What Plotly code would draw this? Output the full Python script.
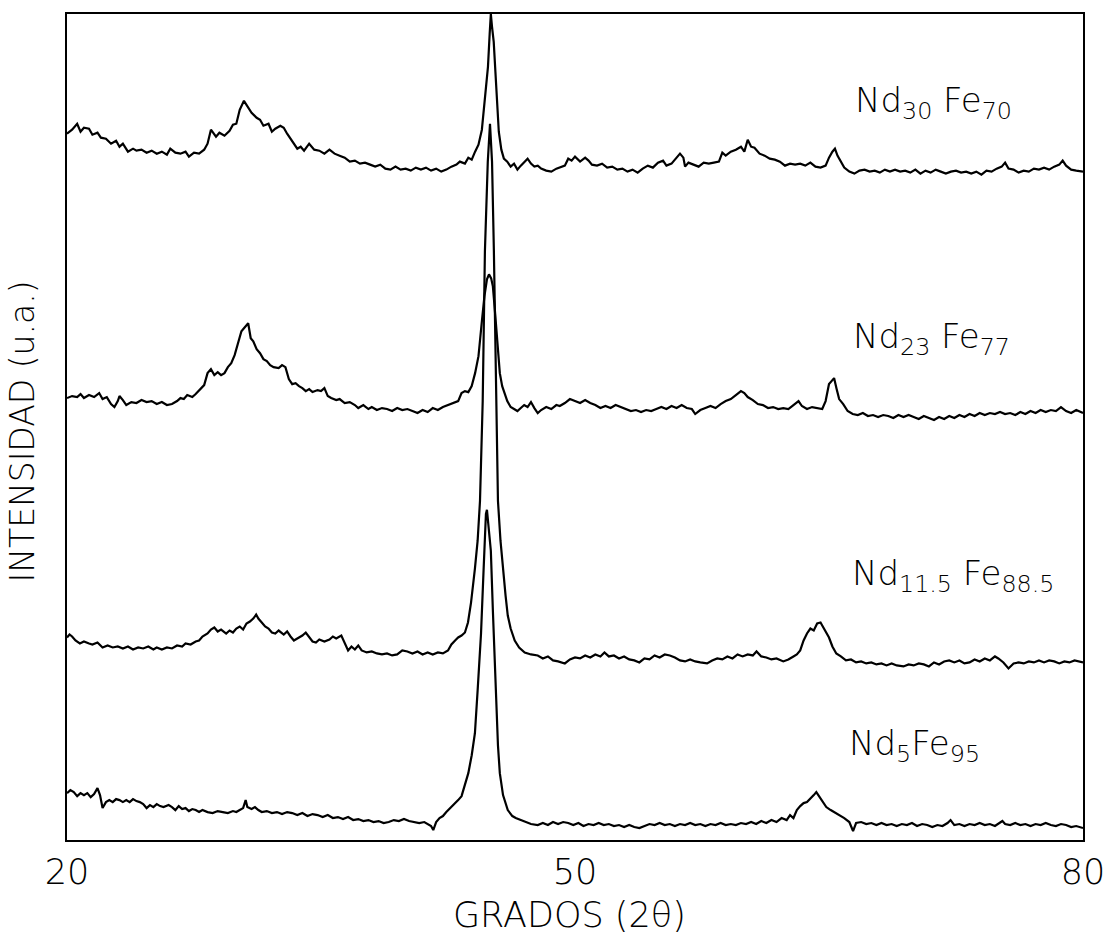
import plotly.graph_objects as go

# ---- data (2theta in degrees, intensity in arbitrary units) ----
x_nd30 = [20.0, 20.3, 20.6, 20.8, 21.0, 21.3, 21.5, 21.8, 22.0, 22.3, 22.6, 22.9, 23.1, 23.3, 23.6, 23.9, 24.1, 24.4,
          24.7, 25.0, 25.3, 25.6, 25.9, 26.1, 26.4, 26.7, 27.0, 27.2, 27.5, 27.8, 28.1, 28.3, 28.5, 28.8, 29.0, 29.3,
          29.6, 29.8, 30.0, 30.2, 30.45, 30.7, 30.9, 31.2, 31.4, 31.6, 31.9, 32.1, 32.3, 32.6, 32.8, 33.0, 33.3, 33.6,
          33.8, 34.0, 34.3, 34.6, 34.9, 35.2, 35.5, 35.8, 36.1, 36.4, 36.7, 37.0, 37.3, 37.6, 37.9, 38.2, 38.5, 38.8,
          39.1, 39.4, 39.7, 40.0, 40.3, 40.6, 40.9, 41.2, 41.5, 41.8, 42.1, 42.4, 42.7, 43.0, 43.2, 43.5, 43.7, 43.9,
          44.1, 44.3, 44.5, 44.7, 44.86, 44.96, 45.03, 45.1, 45.2, 45.3, 45.4, 45.5, 45.65, 45.8, 46.0, 46.2, 46.4,
          46.6, 46.8, 47.0, 47.2, 47.4, 47.6, 47.8, 48.0, 48.3, 48.6, 48.9, 49.1, 49.4, 49.6, 49.8, 50.0, 50.3, 50.6,
          50.8, 51.0, 51.3, 51.6, 51.9, 52.2, 52.5, 52.8, 53.1, 53.4, 53.7, 54.0, 54.3, 54.6, 54.9, 55.2, 55.4, 55.7,
          56.0, 56.2, 56.4, 56.5, 56.7, 57.0, 57.3, 57.6, 57.9, 58.2, 58.5, 58.7, 58.9, 59.2, 59.5, 59.8, 60.0, 60.2,
          60.4, 60.6, 60.9, 61.2, 61.5, 61.8, 62.1, 62.4, 62.7, 63.0, 63.3, 63.6, 63.9, 64.2, 64.5, 64.8, 65.0, 65.2,
          65.35, 65.5, 65.7, 65.9, 66.2, 66.5, 66.8, 67.1, 67.4, 67.7, 68.0, 68.3, 68.6, 68.9, 69.2, 69.5, 69.8, 70.1,
          70.4, 70.7, 71.0, 71.3, 71.6, 71.9, 72.2, 72.5, 72.8, 73.1, 73.4, 73.7, 74.0, 74.3, 74.6, 74.9, 75.2, 75.4,
          75.6, 75.9, 76.2, 76.5, 76.8, 77.1, 77.4, 77.7, 78.0, 78.3, 78.6, 78.8, 79.0, 79.3, 79.6, 80.0]
y_nd30 = [708, 712, 718, 710, 714, 713, 707, 709, 704, 703, 698, 701, 695, 698, 690, 693, 691, 692,
          689, 691, 688, 690, 687, 693, 689, 688, 690, 685, 689, 688, 692, 698, 712, 705, 709, 706,
          711, 717, 718, 732, 741, 735, 729, 724, 722, 716, 718, 710, 713, 716, 714, 708, 701, 693,
          695, 691, 698, 692, 691, 688, 692, 688, 686, 684, 680, 681, 678, 679, 677, 675, 677, 673,
          672, 675, 672, 673, 671, 674, 672, 674, 671, 673, 670, 672, 675, 677, 680, 678, 684, 682,
          690, 697, 712, 745, 775, 808, 828, 815, 800, 770, 735, 710, 692, 683, 680, 675, 678,
          672, 676, 679, 683, 678, 675, 676, 673, 671, 670, 673, 674, 676, 683, 681, 685, 680, 684,
          681, 677, 676, 678, 674, 675, 672, 673, 670, 672, 669, 673, 676, 674, 679, 681, 676, 678,
          684, 688, 684, 675, 679, 677, 675, 679, 678, 679, 680, 689, 686, 690, 692, 695, 690, 702,
          695, 694, 688, 686, 683, 682, 680, 676, 678, 677, 678, 676, 679, 675, 674, 676, 684, 690,
          693, 686, 680, 674, 670, 668, 671, 672, 670, 671, 669, 672, 670, 672, 670, 671, 669, 672,
          668, 671, 669, 672, 670, 668, 670, 671, 669, 670, 668, 670, 667, 671, 670, 673, 675, 679,
          673, 672, 669, 671, 670, 673, 672, 674, 672, 675, 677, 681, 676, 672, 671, 670]

x_nd23 = [20.0, 20.3, 20.6, 20.8, 21.0, 21.3, 21.6, 21.9, 22.1, 22.35, 22.6, 22.8, 23.0, 23.1, 23.3, 23.5, 23.8, 24.1,
          24.4, 24.7, 25.0, 25.3, 25.6, 25.9, 26.2, 26.5, 26.7, 26.9, 27.1, 27.4, 27.6, 27.9, 28.1, 28.3, 28.5, 28.7,
          28.9, 29.1, 29.3, 29.5, 29.7, 29.9, 30.1, 30.3, 30.5, 30.7, 30.85, 31.0, 31.2, 31.4, 31.6, 31.8, 32.0, 32.2,
          32.5, 32.7, 32.9, 33.1, 33.3, 33.5, 33.7, 33.9, 34.1, 34.3, 34.5, 34.8, 35.0, 35.2, 35.4, 35.6, 35.9, 36.1,
          36.4, 36.7, 37.0, 37.2, 37.5, 37.8, 38.0, 38.3, 38.6, 38.9, 39.2, 39.5, 39.8, 40.1, 40.4, 40.7, 41.0, 41.3,
          41.6, 41.9, 42.2, 42.5, 42.8, 43.1, 43.3, 43.5, 43.7, 43.9, 44.1, 44.3, 44.5, 44.65, 44.8, 44.92, 45.05,
          45.15, 45.25, 45.35, 45.45, 45.56, 45.7, 45.86, 46.0, 46.2, 46.4, 46.6, 46.8, 47.0, 47.2, 47.4, 47.6, 47.8,
          48.0, 48.3, 48.6, 48.9, 49.1, 49.4, 49.7, 50.0, 50.3, 50.6, 50.9, 51.2, 51.5, 51.8, 52.1, 52.4, 52.7, 53.0,
          53.3, 53.6, 53.9, 54.2, 54.5, 54.8, 55.1, 55.4, 55.7, 56.0, 56.3, 56.6, 56.9, 57.1, 57.4, 57.7, 58.0, 58.3,
          58.6, 58.9, 59.2, 59.5, 59.8, 60.0, 60.2, 60.5, 60.8, 61.1, 61.4, 61.7, 62.0, 62.3, 62.6, 62.9, 63.2, 63.4,
          63.7, 64.0, 64.3, 64.6, 64.8, 65.0, 65.15, 65.3, 65.45, 65.6, 65.84, 66.1, 66.4, 66.7, 67.0, 67.3, 67.6,
          67.9, 68.2, 68.5, 68.8, 69.1, 69.4, 69.7, 70.0, 70.3, 70.6, 70.9, 71.2, 71.5, 71.8, 72.1, 72.4, 72.7, 73.0,
          73.3, 73.6, 73.9, 74.2, 74.5, 74.8, 75.1, 75.4, 75.7, 76.0, 76.3, 76.6, 76.9, 77.2, 77.5, 77.8, 78.1, 78.4,
          78.7, 79.0, 79.3, 79.6, 80.0]
y_nd23 = [443, 445, 444, 447, 443, 446, 444, 448, 442, 444, 437, 434, 440, 445, 441, 436, 439, 438,
          441, 439, 440, 437, 439, 436, 437, 440, 443, 442, 446, 444, 447, 452, 456, 468, 472, 466,
          469, 466, 468, 474, 478, 486, 497, 510, 514, 518, 503, 500, 492, 488, 482, 480, 476, 474,
          473, 476, 474, 462, 457, 458, 455, 453, 450, 452, 449, 451, 450, 453, 445, 443, 441, 442,
          438, 439, 436, 433, 436, 432, 434, 431, 433, 432, 430, 433, 431, 432, 430, 428, 431, 429,
          433, 431, 434, 436, 438, 440, 448, 450, 449, 455, 468, 485, 520, 545, 562, 567, 563,
          555, 535, 510, 488, 468, 455, 447, 440, 434, 432, 430, 433, 436, 434, 439, 433, 428,
          431, 434, 432, 436, 435, 438, 442, 440, 438, 441, 438, 436, 433, 435, 433, 436, 434, 432,
          430, 431, 429, 431, 430, 432, 434, 432, 435, 433, 436, 433, 432, 427, 431, 433, 435, 433,
          437, 440, 442, 446, 450, 448, 444, 441, 437, 436, 433, 434, 432, 433, 432, 436, 440, 435,
          432, 434, 433, 432, 440, 457, 460, 463, 452, 442, 437, 430, 427, 426, 428, 425, 426,
          424, 426, 425, 423, 426, 424, 426, 424, 422, 425, 423, 421, 424, 422, 425, 423, 426, 424,
          427, 425, 428, 426, 428, 427, 429, 427, 428, 426, 429, 427, 430, 428, 431, 429, 431, 430,
          434, 430, 428, 431, 428]

x_nd115 = [20.0, 20.15, 20.3, 20.5, 20.76, 21.0, 21.3, 21.5, 21.8, 22.1, 22.4, 22.7, 23.0, 23.3, 23.6, 23.9, 24.2,
           24.5, 24.8, 25.1, 25.3, 25.6, 25.9, 26.2, 26.5, 26.8, 27.0, 27.3, 27.6, 27.8, 28.0, 28.3, 28.5, 28.7,
           28.9, 29.1, 29.4, 29.6, 29.8, 30.0, 30.2, 30.4, 30.6, 30.8, 31.0, 31.17, 31.3, 31.5, 31.7, 31.9, 32.1,
           32.3, 32.5, 32.8, 33.0, 33.2, 33.4, 33.6, 33.9, 34.1, 34.3, 34.5, 34.7, 34.9, 35.2, 35.5, 35.7, 35.9,
           36.2, 36.4, 36.6, 36.8, 37.0, 37.2, 37.4, 37.7, 38.0, 38.3, 38.6, 38.9, 39.2, 39.5, 39.8, 40.1, 40.4,
           40.7, 41.0, 41.3, 41.6, 41.9, 42.2, 42.5, 42.7, 42.92, 43.1, 43.3, 43.5, 43.68, 43.86, 44.09, 44.25,
           44.39, 44.55, 44.68, 44.85, 44.98, 45.1, 45.21, 45.33, 45.45, 45.6, 45.74, 45.9, 46.03, 46.2, 46.44,
           46.7, 47.03, 47.4, 47.8, 48.1, 48.4, 48.7, 49.0, 49.4, 49.7, 50.0, 50.3, 50.6, 50.9, 51.2, 51.5, 51.74,
           52.0, 52.3, 52.6, 52.9, 53.2, 53.5, 53.8, 54.1, 54.4, 54.7, 55.0, 55.3, 55.6, 55.9, 56.2, 56.5, 56.8,
           57.1, 57.4, 57.8, 58.1, 58.4, 58.7, 59.0, 59.3, 59.6, 59.9, 60.2, 60.5, 60.72, 61.0, 61.3, 61.6, 61.9,
           62.3, 62.6, 62.9, 63.1, 63.3, 63.5, 63.7, 63.9, 64.1, 64.3, 64.5, 64.7, 64.9, 65.0, 65.2, 65.43, 65.7,
           66.0, 66.3, 66.6, 66.9, 67.2, 67.5, 67.8, 68.1, 68.4, 68.7, 69.0, 69.4, 69.7, 70.0, 70.3, 70.6, 70.9,
           71.2, 71.5, 71.8, 72.1, 72.4, 72.7, 73.0, 73.3, 73.6, 73.9, 74.2, 74.5, 74.8, 75.0, 75.3, 75.6, 75.9,
           76.2, 76.5, 76.8, 77.1, 77.4, 77.7, 78.0, 78.3, 78.6, 78.9, 79.2, 79.5, 79.8, 80.0]
y_nd115 = [203, 206, 204, 200, 197, 199, 197, 196, 198, 193, 195, 193, 194, 192, 194, 191, 193,
           192, 194, 191, 193, 191, 193, 192, 195, 194, 197, 196, 199, 200, 204, 207, 211, 213,
           209, 211, 207, 210, 208, 212, 214, 211, 217, 219, 222, 226, 222, 218, 214, 212, 208,
           207, 210, 206, 209, 204, 200, 202, 205, 208, 203, 199, 198, 201, 199, 201, 204, 202,
           205, 198, 190, 194, 191, 195, 190, 188, 189, 187, 186, 187, 185, 186, 190, 189, 187,
           189, 186, 188, 186, 188, 187, 190, 196, 200, 203, 205, 208, 218, 238, 272, 300,
           340, 440, 590, 680, 718, 680, 590, 460, 340, 300, 272, 245, 225, 212, 200,
           193, 188, 186, 185, 182, 184, 180, 179, 177, 181, 183, 182, 185, 183, 186, 184, 188,
           184, 185, 182, 184, 181, 180, 178, 182, 181, 185, 183, 186, 185, 183, 180, 179, 181,
           179, 178, 177, 180, 182, 181, 184, 182, 186, 184, 186, 185, 189, 184, 183, 181, 182,
           179, 181, 184, 186, 190, 200, 207, 212, 210, 217, 218, 212, 207, 203, 194, 187, 184,
           180, 181, 178, 179, 177, 178, 176, 177, 175, 177, 175, 174, 176, 175, 177, 176, 174,
           178, 176, 179, 180, 178, 180, 177, 178, 181, 179, 182, 180, 184, 182, 178, 172, 177,
           178, 177, 179, 178, 180, 178, 180, 179, 177, 179, 178, 180, 179, 178]

x_nd5 = [20.0, 20.2, 20.4, 20.6, 20.8, 21.0, 21.2, 21.4, 21.6, 21.8, 21.95, 22.1, 22.3, 22.5, 22.7, 22.9, 23.1, 23.3,
         23.5, 23.7, 23.9, 24.1, 24.3, 24.5, 24.7, 24.9, 25.1, 25.3, 25.5, 25.7, 26.0, 26.2, 26.4, 26.6, 26.8, 27.0,
         27.2, 27.4, 27.6, 27.8, 28.0, 28.3, 28.6, 28.9, 29.2, 29.5, 29.8, 30.0, 30.2, 30.4, 30.55, 30.65, 30.9,
         31.1, 31.3, 31.5, 31.8, 32.1, 32.4, 32.7, 33.0, 33.3, 33.6, 33.9, 34.2, 34.5, 34.8, 35.1, 35.4, 35.7,
         36.0, 36.3, 36.6, 36.9, 37.2, 37.5, 37.8, 38.1, 38.4, 38.7, 39.0, 39.3, 39.6, 39.9, 40.2, 40.5, 40.8,
         41.1, 41.3, 41.5, 41.63, 41.8, 42.0, 42.2, 42.4, 42.7, 42.9, 43.1, 43.3, 43.5, 43.7, 43.9, 44.09, 44.25,
         44.45, 44.6, 44.74, 44.8, 44.9, 45.03, 45.15, 45.25, 45.33, 45.45, 45.56, 45.75, 46.03, 46.3, 46.5, 46.8,
         47.1, 47.4, 47.8, 48.1, 48.4, 48.7, 49.0, 49.3, 49.6, 49.9, 50.2, 50.5, 50.8, 51.1, 51.4, 51.7, 52.0,
         52.3, 52.6, 52.9, 53.2, 53.5, 53.8, 54.1, 54.4, 54.7, 55.0, 55.3, 55.6, 55.9, 56.2, 56.5, 56.8, 57.1,
         57.4, 57.7, 58.0, 58.3, 58.6, 58.9, 59.2, 59.5, 59.8, 60.1, 60.4, 60.7, 61.0, 61.3, 61.6, 61.9, 62.2,
         62.5, 62.7, 62.9, 63.1, 63.3, 63.5, 63.7, 63.9, 64.1, 64.25, 64.4, 64.6, 64.84, 65.1, 65.4, 65.6, 65.9,
         66.2, 66.42, 66.6, 66.9, 67.2, 67.5, 67.8, 68.1, 68.4, 68.7, 69.0, 69.3, 69.6, 69.9, 70.2, 70.5, 70.8,
         71.1, 71.4, 71.7, 72.0, 72.18, 72.4, 72.7, 73.0, 73.3, 73.6, 73.9, 74.2, 74.5, 74.8, 75.1, 75.24, 75.4,
         75.7, 76.0, 76.3, 76.6, 76.9, 77.2, 77.5, 77.8, 78.1, 78.4, 78.7, 79.0, 79.3, 79.6, 80.0]
y_nd5 = [47, 50, 48, 44, 47, 45, 47, 43, 46, 52, 45, 32, 38, 40, 38, 41, 40, 38,
         40, 38, 41, 39, 38, 36, 32, 35, 33, 36, 34, 33, 35, 33, 30, 34, 31, 32,
         29, 31, 30, 28, 30, 28, 27, 29, 28, 27, 29, 28, 30, 32, 40, 33, 31,
         33, 30, 28, 29, 27, 28, 26, 28, 27, 25, 27, 24, 26, 25, 23, 25, 22,
         23, 21, 23, 20, 21, 19, 20, 18, 19, 17, 18, 20, 19, 21, 19, 18, 17,
         18, 16, 14, 10, 18, 22, 24, 28, 33, 36, 40, 44, 55, 67, 85, 107, 150,
         207, 270, 327, 331, 315, 290, 230, 180, 140, 95, 67, 45, 30, 24, 22, 20,
         18, 16, 15, 17, 15, 18, 16, 18, 17, 15, 17, 14, 16, 15, 17, 15, 16,
         14, 15, 13, 15, 13, 12, 14, 16, 15, 17, 15, 16, 14, 16, 15, 17, 15,
         16, 14, 16, 15, 17, 15, 16, 15, 17, 16, 18, 16, 19, 17, 20, 18, 22,
         20, 25, 22, 30, 34, 37, 38, 41, 45, 48, 44, 38, 33, 30, 27, 25, 22,
         18, 9, 17, 18, 16, 17, 15, 17, 15, 16, 14, 16, 15, 17, 14, 16, 15,
         13, 15, 14, 17, 20, 15, 16, 14, 16, 15, 17, 15, 16, 14, 17, 19, 16,
         15, 17, 15, 16, 14, 16, 15, 17, 15, 14, 16, 15, 13, 14, 12]

labels = ["Nd<sub>30</sub> Fe<sub>70</sub>", "Nd<sub>23</sub> Fe<sub>77</sub>",
          "Nd<sub>11.5</sub> Fe<sub>88.5</sub>", "Nd<sub>5</sub>Fe<sub>95</sub>"]
x_ticks = [20, 50, 80]

FONT = "DejaVu Sans ExtraLight, DejaVu Sans Light, DejaVu Sans"
INK = "#000000"

fig = go.Figure()
for xs, ys in [(x_nd30, y_nd30), (x_nd23, y_nd23), (x_nd115, y_nd115), (x_nd5, y_nd5)]:
    fig.add_trace(go.Scatter(x=xs, y=ys, mode="lines",
                             line=dict(color="black", width=2.2), showlegend=False))

# label placement (paper coordinates)
label_pos = [(0.774, 0.893), (0.772, 0.607), (0.771, 0.32), (0.768, 0.115)]
for txt, (px, py) in zip(labels, label_pos):
    fig.add_annotation(text=txt, x=px, y=py, xref="paper", yref="paper",
                       xanchor="left", yanchor="middle", showarrow=False,
                       font=dict(family=FONT, size=34, color=INK, weight=200))

fig.add_annotation(text="GRADOS (2θ)", x=0.4946, y=-0.0906, xref="paper", yref="paper",
                   xanchor="center", yanchor="middle", showarrow=False,
                   font=dict(family=FONT, size=35, color=INK, weight=200))
fig.add_annotation(text="INTENSIDAD (u.a.)", x=-0.044, y=0.495, xref="paper", yref="paper",
                   xanchor="center", yanchor="middle", showarrow=False, textangle=-90,
                   font=dict(family=FONT, size=33, color=INK, weight=200))

fig.update_layout(
    width=1117, height=942,
    margin=dict(l=67, r=29, t=12, b=102),
    plot_bgcolor="white", paper_bgcolor="white",
    xaxis=dict(range=[20, 80], tickvals=x_ticks, ticktext=[str(t) for t in x_ticks],
               showgrid=False, zeroline=False, showline=True, linecolor="black", linewidth=2,
               mirror=True, ticks="", tickfont=dict(family=FONT, size=35, color=INK, weight=200)),
    yaxis=dict(range=[0, 828], showticklabels=False, showgrid=False, zeroline=False,
               showline=True, linecolor="black", linewidth=2, mirror=True, ticks=""),
)

fig.write_html("out.html")
